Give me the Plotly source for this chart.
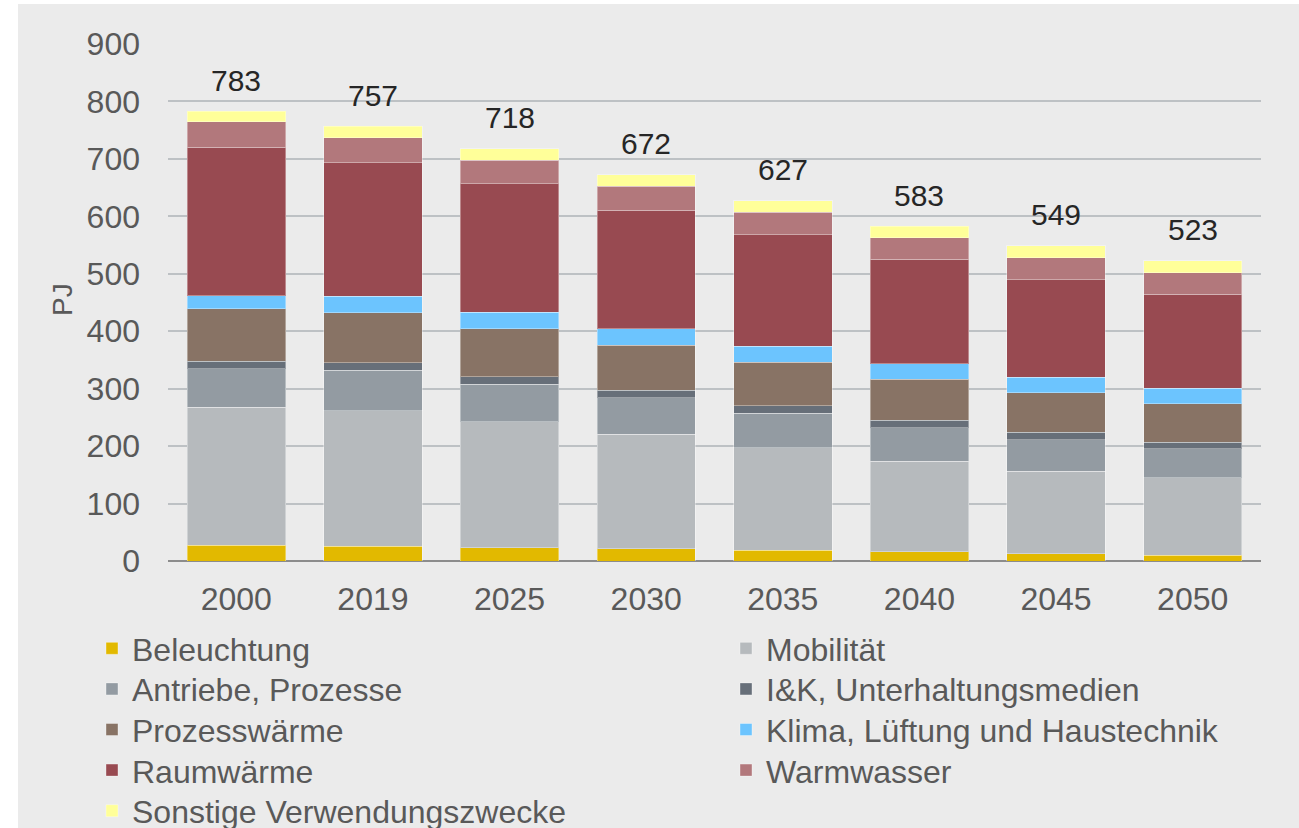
import plotly.graph_objects as go

years = ["2000", "2019", "2025", "2030", "2035", "2040", "2045", "2050"]

beleuchtung = [27, 26, 23, 21, 19, 16, 13, 10]
mobilitaet = [241, 236, 219, 200, 178, 158, 143, 135]
antriebe = [67, 70, 66, 63, 60, 58, 55, 50]
iuk = [13, 13, 13, 13, 13, 13, 13, 12]
prozesswaerme = [91, 87, 83, 79, 76, 71, 69, 67]
klima = [23, 29, 29, 28, 28, 27, 27, 27]
raumwaerme = [258, 232, 224, 207, 194, 182, 170, 163]
warmwasser = [45, 44, 41, 41, 39, 38, 38, 38]
sonstige = [18, 20, 20, 20, 20, 20, 21, 21]

series_names = [
    "Beleuchtung", "Mobilität", "Antriebe, Prozesse", "I&K, Unterhaltungsmedien",
    "Prozesswärme", "Klima, Lüftung und Haustechnik", "Raumwärme", "Warmwasser",
    "Sonstige Verwendungszwecke",
]
series_values = [beleuchtung, mobilitaet, antriebe, iuk, prozesswaerme, klima,
                 raumwaerme, warmwasser, sonstige]
colors = ["#E2B900", "#B6BABD", "#939BA2", "#676F79", "#887365", "#6CC4FE",
          "#984A51", "#B2787C", "#FFFF99"]

totals = [sum(v) for v in zip(*series_values)]

FONT = "Liberation Sans, Arial, sans-serif"
W, H = 1299, 828
L, R, T, B = 168, 38, 44, 267
pw = W - L - R
ph = H - T - B


def px_x(p):
    return (p - L) / pw


def px_y(p):
    return (H - B - p) / ph


fig = go.Figure()
legend_layouts = {}
col_x = [92, 726]
row0, row_step = 650, 40.6
for k, (name, vals, col) in enumerate(zip(series_names, series_values, colors)):
    lg = "legend" if k == 0 else f"legend{k + 1}"
    r, c = divmod(k, 2)
    legend_layouts[lg] = dict(
        orientation="v", xref="container", yref="container",
        x=col_x[c] / W, xanchor="left",
        y=1 - (row0 + r * row_step - 29) / H, yanchor="top",
        font=dict(family=FONT, size=32, color="#595959"),
        bgcolor="rgba(0,0,0,0)", borderwidth=0,
    )
    fig.add_trace(go.Bar(
        x=years, y=vals, name=name, legend=lg, showlegend=True,
        marker=dict(color=col, line=dict(color="rgba(255,255,255,0.35)", width=1)),
    ))

for i, tot in enumerate(totals):
    fig.add_annotation(x=i, y=tot, text=str(tot), showarrow=False,
                       yanchor="middle", yshift=31,
                       font=dict(family=FONT, size=30, color="#262626"))

fig.add_annotation(xref="paper", yref="paper", x=px_x(62), y=px_y(300),
                   text="PJ", textangle=-90, showarrow=False,
                   xanchor="center", yanchor="middle",
                   font=dict(family=FONT, size=28, color="#595959"))

fig.add_shape(type="rect", xref="paper", yref="paper",
              x0=px_x(18), x1=px_x(1299), y0=px_y(828), y1=px_y(4),
              fillcolor="#EBEBEB", line=dict(width=0), layer="below")

fig.update_layout(
    width=W, height=H, showlegend=True,
    barmode="stack", bargap=0.28,
    paper_bgcolor="white", plot_bgcolor="#EBEBEB",
    margin=dict(l=L, r=R, t=T, b=B, autoexpand=False),
    font=dict(family=FONT, size=30, color="#595959"),
    xaxis=dict(type="category", showgrid=False, ticks="", ticklabelstandoff=16,
               tickfont=dict(size=32, color="#595959")),
    yaxis=dict(range=[0, 900], dtick=100, showgrid=True, gridcolor="#BDC1C4",
               gridwidth=1.5, zeroline=True, zerolinecolor="#8C8C8C", zerolinewidth=2,
               ticks="", ticklabelstandoff=27,
               tickfont=dict(size=32, color="#595959")),
    **legend_layouts,
)

fig.write_html(
    "out.html",
    config={"displayModeBar": False},
    post_script="document.body.style.margin='0';document.body.style.overflow='hidden';",
)
